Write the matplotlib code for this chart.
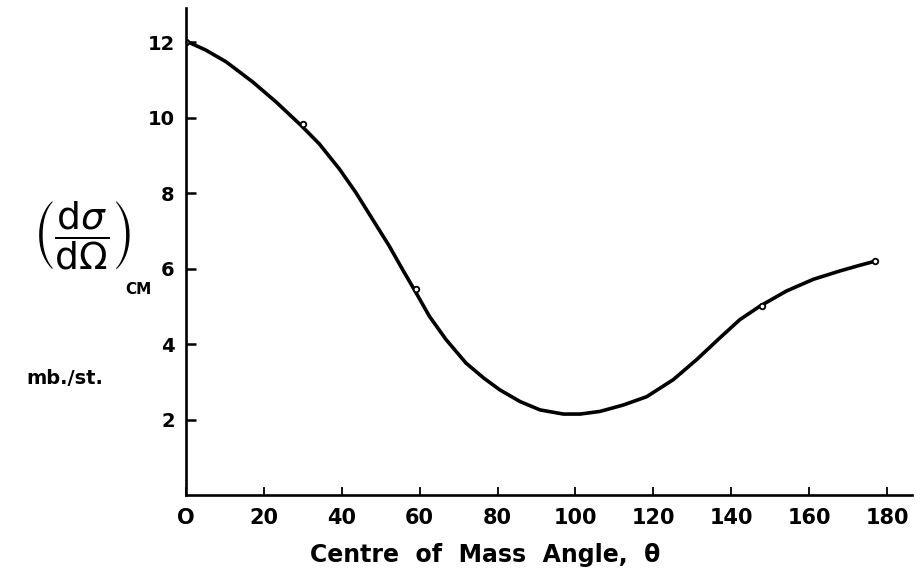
# Differential cross section vs centre of mass angle (hand-drawn style curve)

import numpy as np
import matplotlib.pyplot as plt

# smooth curve
curve_angle = [0, 5.1, 10.3, 17.1, 23.1, 29.5, 34.2, 39.4, 43.6, 47.9, 52.2,
               55.6, 58.6, 62.5, 66.8, 71.9, 76.5, 80.6, 85.8, 90.9, 96.9,
               101.2, 106.3, 112.3, 118.3, 125.1, 131.1, 137.1, 142.2, 147.4,
               154.2, 161.1, 167.9, 173.0, 177.3]
curve_value = [12.03, 11.79, 11.48, 10.95, 10.42, 9.80, 9.31, 8.64, 8.02,
               7.31, 6.60, 5.98, 5.45, 4.74, 4.12, 3.50, 3.10, 2.79, 2.48,
               2.26, 2.15, 2.15, 2.22, 2.39, 2.61, 3.06, 3.59, 4.17, 4.65,
               5.01, 5.41, 5.72, 5.94, 6.09, 6.21]

# measured points (small circles)
point_angle = [0, 30, 59, 148, 177]
point_value = [12.0, 9.84, 5.45, 5.0, 6.2]

x_ticks = [0, 20, 40, 60, 80, 100, 120, 140, 160, 180]
x_labels = ["O", "20", "40", "60", "80", "100", "120", "140", "160", "180"]
y_ticks = [2, 4, 6, 8, 10, 12]
y_labels = ["2", "4", "6", "8", "10", "12"]

fig = plt.figure(figsize=(9.16, 5.84), dpi=100)
ax = fig.add_axes([0.203, 0.152, 0.7926, 0.834])

ax.plot(curve_angle, curve_value, color="black", linewidth=2.6,
        solid_capstyle="round", solid_joinstyle="round")
ax.plot(point_angle, point_value, linestyle="none", marker="o", markersize=4,
        markerfacecolor="white", markeredgecolor="black", markeredgewidth=1.3)

ax.set_xlim(0, 186.4)
ax.set_ylim(0, 12.9)

for side in ["top", "right"]:
    ax.spines[side].set_visible(False)
for side in ["left", "bottom"]:
    ax.spines[side].set_linewidth(1.9)

ax.set_xticks(x_ticks)
ax.set_xticklabels(x_labels)
ax.set_yticks(y_ticks)
ax.set_yticklabels(y_labels)
ax.tick_params(axis="x", direction="in", length=6, width=1.3, pad=9,
               labelsize=15)
ax.tick_params(axis="y", direction="in", length=7, width=1.8, pad=8,
               labelsize=14)
for lab in ax.get_xticklabels() + ax.get_yticklabels():
    lab.set_fontweight("bold")

# axis labels
fig.text(485 / 916, 1 - 555 / 584, "Centre  of  Mass  Angle,  \u03b8",
         ha="center", va="center", fontsize=17, fontweight="bold")
fig.text(82 / 916, 1 - 236 / 584,
         r"$\left(\dfrac{\mathrm{d}\sigma}{\mathrm{d}\Omega}\right)$",
         ha="center", va="center", fontsize=27)
fig.text(138 / 916, 1 - 290 / 584, "CM", ha="center", va="center",
         fontsize=11, fontweight="bold")
fig.text(65 / 916, 1 - 378 / 584, "mb./st.", ha="center", va="center",
         fontsize=14, fontweight="bold")

plt.savefig("out.png", dpi=100)
